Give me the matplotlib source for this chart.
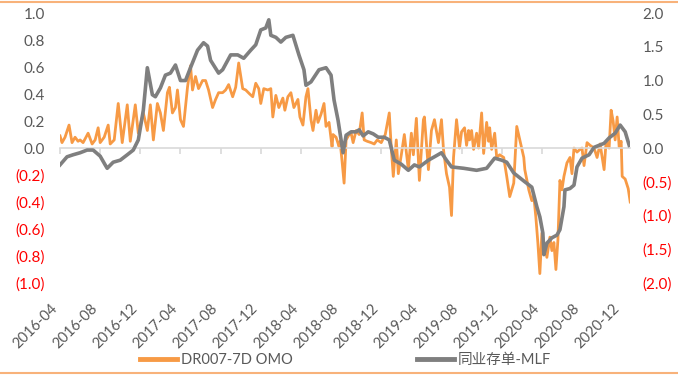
import pandas as pd
import matplotlib.pyplot as plt
from matplotlib.lines import Line2D

plt.rcParams['font.family'] = ['Lato', 'Noto Sans CJK SC', 'DejaVu Sans']

# months since 2016-04 and values
dr_t = [0.0, 0.2, 0.5, 0.9, 1.2, 1.5, 1.8, 2.0, 2.3, 2.8, 3.2, 3.5, 3.8, 4.0, 4.4, 4.8,
        5.0, 5.4, 5.8, 6.2, 6.7, 7.0, 7.5, 7.8, 8.3, 8.7, 9.0, 9.3, 9.7, 10.0, 10.3, 10.7,
        10.9, 11.2, 11.5, 11.7, 12.0, 12.3, 12.7, 13.0, 13.2, 13.5, 13.8, 14.2, 14.5, 14.8,
        15.2, 15.5, 15.8, 16.2, 16.5, 16.8, 17.2, 17.5, 17.8, 18.2, 18.5, 18.9, 19.2, 19.5,
        19.8, 20.0, 20.3, 20.7, 21.0, 21.2, 21.5, 21.8, 22.2, 22.4, 22.7, 23.0, 23.3, 23.7,
        23.9, 24.2, 24.5, 24.7, 25.0, 25.2, 25.5, 25.7, 26.0, 26.3, 26.5, 26.8, 27.1, 27.2,
        27.5, 27.8, 27.9, 28.1, 28.3, 28.5, 28.8, 29.0, 29.2, 29.5, 29.8, 30.1, 30.3, 30.6,
        31.0, 31.3, 31.6, 32.0, 32.4, 32.8, 33.0, 33.2, 33.5, 33.7, 34.0, 34.3, 34.7, 35.0,
        35.2, 35.5, 35.8, 36.2, 36.3, 36.7, 37.0, 37.3, 37.7, 38.0, 38.2, 38.5, 38.8, 39.0,
        39.2, 39.5, 39.8, 40.0, 40.3, 40.5, 40.7, 40.8, 41.0, 41.2, 41.5, 41.7, 42.0, 42.2,
        42.5, 42.7, 42.8, 43.0, 43.3, 43.5, 43.8, 44.2, 44.5, 44.8, 45.2, 45.5, 45.8, 46.2,
        46.3, 46.7, 47.0, 47.2, 47.4, 47.6, 47.8, 48.0, 48.3, 48.5, 48.8, 49.0, 49.2, 49.4,
        49.6, 49.8, 50.0, 50.2, 50.5, 50.8, 51.0, 51.2, 51.5, 51.8, 52.0, 52.2, 52.5, 52.8,
        53.2, 53.5, 53.8, 54.2, 54.4, 54.7, 54.9, 55.1, 55.3, 55.5, 55.7, 55.9, 56.0, 56.3,
        56.6, 56.8]
dr_v = [0.09, 0.04, 0.08, 0.17, 0.04, 0.08, 0.05, 0.06, 0.04, 0.11, 0.03, 0.06, 0.15, 0.04, 0.08, 0.17,
        0.03, 0.06, 0.33, 0.04, 0.32, 0.05, 0.32, 0.11, 0.26, 0.13, 0.32, 0.06, 0.33, 0.26, 0.13, 0.41,
        0.45, 0.26, 0.30, 0.43, 0.21, 0.16, 0.45, 0.61, 0.43, 0.53, 0.44, 0.50, 0.50, 0.43,
        0.30, 0.36, 0.41, 0.41, 0.43, 0.47, 0.38, 0.45, 0.63, 0.44, 0.43, 0.40, 0.38, 0.48,
        0.44, 0.33, 0.44, 0.43, 0.44, 0.23, 0.39, 0.30, 0.37, 0.28, 0.38, 0.41, 0.30, 0.36,
        0.23, 0.17, 0.38, 0.44, 0.21, 0.13, 0.28, 0.19, 0.25, 0.33, 0.16, 0.19, 0.01, 0.10,
        0.08, 0.01, 0.05, -0.10, -0.26, 0.06, 0.10, 0.11, 0.04, 0.13, 0.10, 0.26, 0.06, 0.05,
        0.04, 0.03, 0.06, 0.04, 0.10, 0.26, 0.00, -0.21, 0.06, -0.19, -0.05, 0.10, -0.16, 0.11,
        -0.05, 0.22, -0.24, 0.21, 0.23, -0.16, 0.13, 0.21, 0.04, 0.21, -0.01, -0.19, -0.29, -0.50,
        -0.07, 0.21, 0.00, 0.12, 0.15, 0.02, 0.13, 0.06, 0.13, -0.01, 0.11, 0.00, 0.26, -0.04,
        0.19, 0.05, 0.15, -0.01, 0.11, -0.07, -0.05, -0.07, -0.21, -0.36, -0.26, 0.16, 0.06, -0.07,
        -0.16, -0.31, -0.39, -0.36, -0.51, -0.70, -0.93, -0.63, -0.73, -0.81, -0.66, -0.76, -0.70, -0.90,
        -0.68, -0.24, -0.31, -0.21, -0.11, -0.07, -0.19, 0.00, -0.03, -0.01, 0.00, -0.13, 0.04, 0.02,
        0.00, -0.07, 0.03, -0.16, 0.05, 0.00, 0.28, 0.20, 0.06, 0.23, 0.01, 0.05, -0.21, -0.23,
        -0.30, -0.40]

ncd_t = [0.0, 0.7, 1.3, 2.0, 2.7, 3.3, 4.0, 4.5, 4.7, 5.3, 6.0, 6.7, 7.3, 7.8, 8.3, 8.7,
         9.2, 9.5, 10.0, 10.5, 11.0, 11.5, 12.0, 12.5, 13.0, 13.7, 14.3, 14.7, 15.0, 15.8,
         16.2, 17.0, 17.7, 18.3, 19.0, 19.5, 20.0, 20.5, 20.8, 21.0, 21.5, 22.0, 22.5, 23.2,
         23.8, 24.3, 24.5, 25.0, 25.8, 26.5, 27.0, 27.3, 27.7, 28.0, 28.2, 28.5, 29.0, 29.5,
         29.8, 30.2, 30.7, 31.2, 31.7, 32.3, 32.8, 33.3, 34.0, 34.7, 35.3, 35.8, 36.7, 37.3,
         38.0, 38.5, 39.0, 40.2, 41.5, 42.5, 43.3, 44.0, 44.5, 45.2, 46.3, 47.0, 47.5, 47.8,
         48.1, 48.2, 48.5, 49.0, 49.5, 49.8, 50.2, 50.3, 50.8, 51.2, 51.5, 52.0, 52.7, 53.2,
         53.7, 54.2, 54.7, 55.3, 55.8, 56.3, 56.7]
ncd_v = [-0.25, -0.13, -0.10, -0.07, -0.03, -0.03, -0.12, -0.25, -0.30, -0.21, -0.18, -0.10, -0.03, 0.12, 0.56, 1.19,
         0.79, 0.76, 0.89, 1.08, 1.11, 1.23, 1.00, 1.00, 1.19, 1.45, 1.56, 1.51, 1.30, 1.11,
         1.16, 1.38, 1.38, 1.33, 1.45, 1.53, 1.75, 1.78, 1.90, 1.67, 1.64, 1.57, 1.64, 1.67,
         1.38, 1.16, 0.93, 0.98, 1.16, 1.19, 1.08, 0.71, 0.41, 0.12, -0.07, 0.19, 0.24, 0.24,
         0.27, 0.18, 0.24, 0.21, 0.16, 0.16, 0.12, -0.18, -0.24, -0.33, -0.25, -0.28, -0.18, -0.13,
         -0.07, -0.18, -0.28, -0.30, -0.33, -0.30, -0.15, -0.18, -0.21, -0.37, -0.50, -0.58, -0.87, -1.02,
         -1.26, -1.58, -1.41, -1.33, -1.29, -1.21, -0.87, -0.62, -0.60, -0.55, -0.28, -0.15, -0.10, 0.01,
         0.04, 0.07, 0.15, 0.22, 0.34, 0.24, 0.04]

tick_t = list(range(0, 57, 4))
tick_labels = list(pd.date_range('2016-04-01', periods=len(tick_t), freq='4MS').strftime('%Y-%m'))

ORANGE = '#F79A45'
GRAY = '#7F7F7F'
RED = '#FF0000'
LABEL = '#595959'


def paren(v):
    return '(%.1f)' % abs(v) if v < -1e-9 else '%.1f' % v


fig = plt.figure(figsize=(6.78, 3.76), dpi=100)
ax = fig.add_axes([0.0885, 0.2473, 0.841, 0.718])
ax2 = ax.twinx()

ax.plot(dr_t, dr_v, color=ORANGE, lw=2.0, solid_joinstyle='round')
ax2.plot(ncd_t, ncd_v, color=GRAY, lw=2.6, solid_joinstyle='round')

ax.set_xlim(0, 56.8)
ax.set_ylim(-1.0, 1.0)
ax2.set_ylim(-2.0, 2.0)

for a in (ax, ax2):
    for s in ('top', 'left', 'right'):
        a.spines[s].set_visible(False)
ax2.spines['bottom'].set_visible(False)

# zero line with small tick marks
ax.spines['bottom'].set_position(('data', 0))
ax.spines['bottom'].set_color('#D9D9D9')
ax.spines['bottom'].set_linewidth(1.2)
ax.set_xticks(tick_t)
ax.tick_params(axis='x', direction='out', length=4, width=1.2, color='#D9D9D9', labelbottom=False)

sec = ax.secondary_xaxis(0)
sec.set_xticks(tick_t, tick_labels)
sec.spines['bottom'].set_visible(False)
sec.tick_params(length=0, pad=13, labelsize=10.5, labelcolor=LABEL)
for lbl in sec.get_xticklabels():
    lbl.set_rotation(45)
    lbl.set_ha('right')
    lbl.set_va('top')

lt = [round(-1.0 + 0.2 * i, 1) for i in range(11)]
ax.set_yticks(lt, [paren(v) for v in lt])
ax.tick_params(axis='y', length=0, pad=11, labelsize=11)
for lbl, v in zip(ax.get_yticklabels(), lt):
    lbl.set_color(RED if v < 0 else LABEL)

rt = [round(-2.0 + 0.5 * i, 1) for i in range(9)]
ax2.set_yticks(rt, [paren(v) for v in rt])
ax2.tick_params(axis='y', length=0, pad=9, labelsize=11)
for lbl, v in zip(ax2.get_yticklabels(), rt):
    lbl.set_color(RED if v < 0 else LABEL)

handles = [Line2D([], [], color=ORANGE, lw=3.5), Line2D([], [], color=GRAY, lw=3.5)]
fig.legend(handles, ['DR007-7D OMO', '同业存单-MLF'], loc='center', bbox_to_anchor=(0.51, 0.043),
           ncol=2, frameon=False, fontsize=10.5, handlelength=2.5, handletextpad=0.3,
           columnspacing=8.5, labelcolor=LABEL)

# thin orange rules at top and bottom
fig.add_artist(Line2D([0, 1], [0.995, 0.995], color='#F8B27A', lw=1.5, transform=fig.transFigure))
fig.add_artist(Line2D([0, 1], [0.008, 0.008], color='#F8B27A', lw=1.5, transform=fig.transFigure))

fig.savefig('out.png', dpi=100)
